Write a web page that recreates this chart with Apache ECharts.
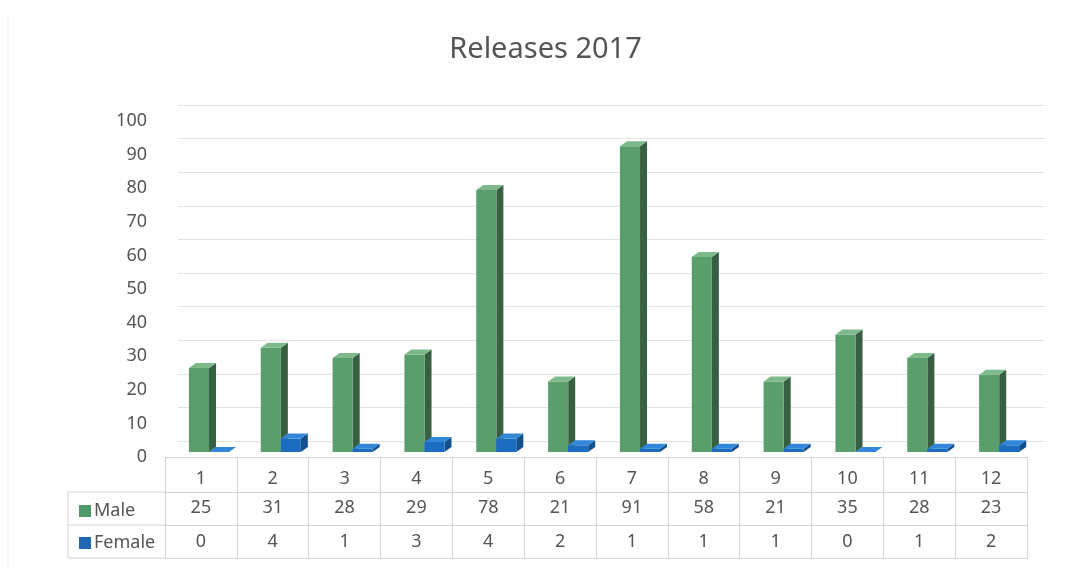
<!DOCTYPE html>
<html>
<head>
<meta charset="utf-8">
<script src="https://cdn.jsdelivr.net/npm/echarts@6/dist/echarts.min.js"></script>
<style>html,body{margin:0;padding:0;background:#fff;}#c{width:1091px;height:571px;}</style>
</head>
<body>
<div id="c"></div>
<script>
var categories = ['1','2','3','4','5','6','7','8','9','10','11','12'];
var male = [25, 31, 28, 29, 78, 21, 91, 58, 21, 35, 28, 23];
var female = [0, 4, 1, 3, 4, 2, 1, 1, 1, 0, 1, 2];
var yTicks = { min: 0, max: 100, interval: 10 };

var FONT = 'Noto Sans';
var TXT = '#555555';
var LINE = '#d4d4d4';

function bar3d(shift, front, side, topc) {
  return function (params, api) {
    var cat = api.value(0), val = api.value(1);
    var base = api.coord([cat, 0]);
    var top = api.coord([cat, val]);
    var band = api.size([1, 0])[0];
    var w = band * 0.28;
    var x0 = base[0] + band * shift;
    var yb = base[1] - 5;
    var yt = top[1] - 5;
    var dx = 7, dy = 5;
    return {
      type: 'group',
      children: [
        { type: 'polygon', shape: { points: [[x0 + w, yb], [x0 + w + dx, yb - dy], [x0 + w + dx, yt - dy], [x0 + w, yt]] }, style: { fill: side } },
        { type: 'rect', shape: { x: x0, y: yt, width: w, height: yb - yt }, style: { fill: front } },
        { type: 'polygon', shape: { points: [[x0, yt], [x0 + dx, yt - dy], [x0 + w + dx, yt - dy], [x0 + w, yt]] }, style: { fill: topc } }
      ]
    };
  };
}

var chart = echarts.init(document.getElementById('c'), null, { renderer: 'canvas' });

function tableAxis(data, offset, margin, tickLen, showTick) {
  return {
    type: 'category', gridIndex: 0, position: 'bottom', offset: offset,
    data: data, boundaryGap: true,
    axisLine: { show: true, lineStyle: { color: LINE, width: 1 } },
    axisTick: { show: showTick, interval: 0, length: tickLen, lineStyle: { color: LINE, width: 1 } },
    axisLabel: { show: true, interval: 0, margin: margin, fontSize: 18, color: TXT, fontFamily: FONT },
    splitLine: { show: false }
  };
}

var option = {
  backgroundColor: '#ffffff',
  animation: false,
  title: {
    text: 'Releases 2017', left: 'center', top: 30,
    textStyle: { fontSize: 29, fontWeight: 'normal', color: TXT, fontFamily: FONT }
  },
  legend: {
    data: ['Male', 'Female'], orient: 'vertical', left: 74, top: 497,
    itemWidth: 12, itemHeight: 12, itemGap: 14, icon: 'rect',
    textStyle: { fontSize: 18, color: TXT, fontFamily: FONT, padding: [0, 0, 0, -2] }
  },
  grid: [
    { left: 165, right: 64, top: 121, bottom: 114 },
    { left: 178, right: 46, top: 105, bottom: 130 }
  ],
  xAxis: [
    tableAxis(categories, 0, 13, 35, true),
    tableAxis(male.map(String), 35, 7, 33, true),
    tableAxis(female.map(String), 68, 8, 33, true),
    { type: 'category', gridIndex: 0, position: 'bottom', offset: 101, data: categories,
      axisLine: { show: true, lineStyle: { color: LINE } }, axisTick: { show: false }, axisLabel: { show: false } },
    { type: 'value', gridIndex: 1, min: 0, max: 1, show: false }
  ],
  yAxis: [
    { type: 'value', gridIndex: 0, min: yTicks.min, max: yTicks.max, interval: yTicks.interval,
      axisLine: { show: false }, axisTick: { show: false }, splitLine: { show: false },
      axisLabel: { fontSize: 18, color: TXT, fontFamily: FONT, margin: 18, padding: [6, 0, 0, 0] } },
    { type: 'value', gridIndex: 1, min: yTicks.min, max: yTicks.max, interval: yTicks.interval,
      axisLine: { show: false }, axisTick: { show: false }, axisLabel: { show: false },
      splitLine: { show: true, lineStyle: { color: '#e2e2e2', width: 1 } } }
  ],
  graphic: [
    { type: 'line', shape: { x1: 68, y1: 492, x2: 165, y2: 492 }, style: { stroke: LINE, lineWidth: 1 } },
    { type: 'line', shape: { x1: 68, y1: 525, x2: 165, y2: 525 }, style: { stroke: LINE, lineWidth: 1 } },
    { type: 'line', shape: { x1: 68, y1: 558, x2: 165, y2: 558 }, style: { stroke: LINE, lineWidth: 1 } },
    { type: 'line', shape: { x1: 68, y1: 492, x2: 68, y2: 558 }, style: { stroke: LINE, lineWidth: 1 } },
    { type: 'line', shape: { x1: 8, y1: 12, x2: 8, y2: 566 }, style: { stroke: '#e4e4e4', lineWidth: 1, lineDash: [2, 2] } }
  ],
  series: [
    { name: 'Male', type: 'custom', xAxisIndex: 0, yAxisIndex: 0,
      itemStyle: { color: '#4f9a68' },
      renderItem: bar3d(-0.167, '#5a9f6b', '#375f42', '#7db98a'),
      encode: { x: 0, y: 1 },
      data: male.map(function (v, i) { return [i, v]; }) },
    { name: 'Female', type: 'custom', xAxisIndex: 0, yAxisIndex: 0,
      itemStyle: { color: '#1f66b3' },
      renderItem: bar3d(0.111, '#1c6cbf', '#134f8d', '#3287d8'),
      encode: { x: 0, y: 1 },
      data: female.map(function (v, i) { return [i, v]; }) }
  ]
};
chart.setOption(option);
</script>
</body>
</html>
